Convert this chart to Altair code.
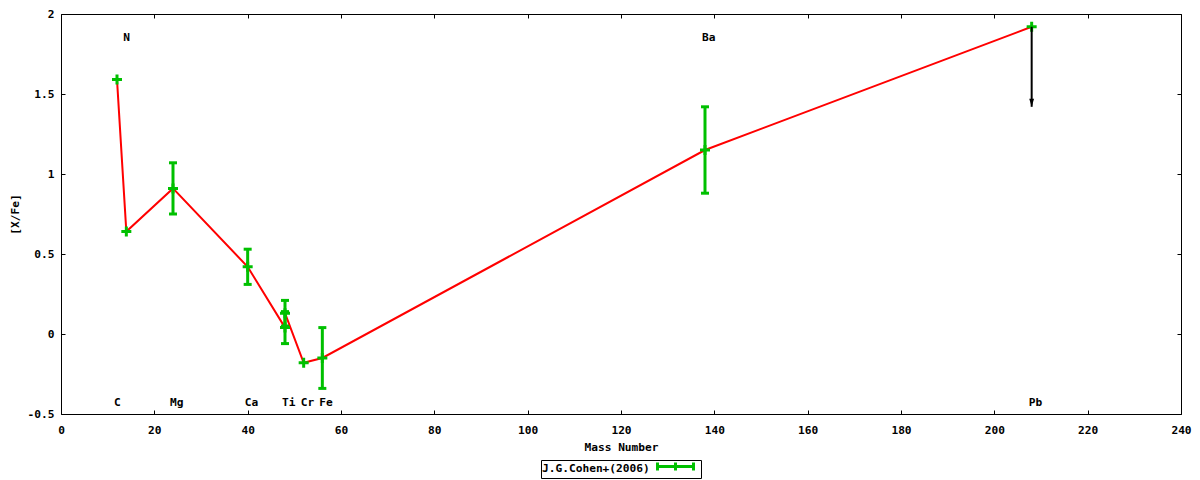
import pandas as pd
import altair as alt

FONT = "DejaVu Sans Mono"
FS = 11.2
GREEN = "#00c000"
SERIES = "J.G.Cohen+(2006)"

# measured abundances (J.G.Cohen+ 2006), in plotting order
elements = ["C", "N", "Mg", "Ca", "Ti", "Ti", "Cr", "Fe", "Ba", "Pb"]
mass = [12, 14, 24, 40, 48, 48, 52, 56, 138, 208]
xfe = [1.59, 0.64, 0.91, 0.42, 0.04, 0.13, -0.18, -0.15, 1.15, 1.92]
xfe_err = [0, 0, 0.16, 0.11, 0.10, 0.08, 0, 0.19, 0.27, 0]

# upper limits (drawn as downward arrows)
limit_mass = [208]
limit_xfe = [1.92]
limit_len = [0.5]

# element name labels
label_text = ["C", "N", "Mg", "Ca", "Ti", "Cr", "Fe", "Ba", "Pb"]
label_mass = [12, 14, 24, 40, 48, 52, 56, 138, 208]
label_y = [-0.43, 1.85, -0.43, -0.43, -0.43, -0.43, -0.43, 1.85, -0.43]

x_ticks = list(range(0, 241, 20))
y_ticks = [-0.5, 0, 0.5, 1, 1.5, 2]

df = pd.DataFrame({
    "element": elements, "mass": mass, "xfe": xfe, "err": xfe_err,
    "idx": list(range(len(mass))), "series": SERIES,
})
df_lim = pd.DataFrame({"mass": limit_mass, "xfe": limit_xfe, "len": limit_len})
df_lab = pd.DataFrame({"text": label_text, "mass": label_mass, "y": label_y})

x_scale = alt.Scale(domain=[0, 240], nice=False, zero=False)
y_scale = alt.Scale(domain=[-0.5, 2], nice=False, zero=False)

tick_style = dict(domain=False, grid=False, tickSize=4, offset=-4, tickColor="black",
                  tickWidth=1, labelFont=FONT, labelFontSize=FS, labelFontWeight="bold",
                  labelColor="black", titleFont=FONT, titleFontSize=FS,
                  titleFontWeight="bold", titleColor="black", labelFlush=False,
                  labelOverlap=False)

x_bottom = alt.Axis(orient="bottom", values=x_ticks, labelPadding=10,
                    title="Mass Number", titlePadding=6, **tick_style)
y_left = alt.Axis(orient="left", values=y_ticks, labelPadding=7,
                  labelExpr="toString(datum.value)", title="[X/Fe]", titlePadding=7,
                  **tick_style)
x_top = alt.Axis(orient="top", values=x_ticks, labels=False, title=None, **tick_style)
y_right = alt.Axis(orient="right", values=y_ticks, labels=False, title=None, **tick_style)

line = alt.Chart(df).mark_line(color="red", strokeWidth=2).encode(
    x=alt.X("mass:Q", scale=x_scale, axis=x_bottom),
    y=alt.Y("xfe:Q", scale=y_scale, axis=y_left),
    order=alt.Order("idx:Q"),
)

err_base = alt.Chart(df).transform_filter("datum.err > 0").transform_calculate(
    lo="datum.xfe - datum.err", hi="datum.xfe + datum.err"
)
err_rule = err_base.mark_rule(color=GREEN, strokeWidth=3).encode(
    x=alt.X("mass:Q", scale=x_scale, axis=None),
    y=alt.Y("lo:Q", scale=y_scale, axis=None),
    y2="hi:Q",
)
cap_lo = err_base.mark_tick(color=GREEN, orient="horizontal", size=8, thickness=3,
                            opacity=1).encode(
    x=alt.X("mass:Q", scale=x_scale, axis=None),
    y=alt.Y("lo:Q", scale=y_scale, axis=None),
)
cap_hi = err_base.mark_tick(color=GREEN, orient="horizontal", size=8, thickness=3,
                            opacity=1).encode(
    x=alt.X("mass:Q", scale=x_scale, axis=None),
    y=alt.Y("hi:Q", scale=y_scale, axis=None),
)

points = alt.Chart(df).mark_point(shape="M-1,0L1,0M0,-1L0,1", size=100, strokeWidth=3,
                                  filled=False, opacity=1).encode(
    x=alt.X("mass:Q", scale=x_scale, axis=x_top),
    y=alt.Y("xfe:Q", scale=y_scale, axis=y_right),
    color=alt.Color("series:N", scale=alt.Scale(range=[GREEN]), legend=alt.Legend(
        orient="none", legendX=480, legendY=446, title=SERIES, titleOrient="left",
        titleFont=FONT, titleFontSize=FS, titleFontWeight="bold", titleColor="black",
        titlePadding=6, labelExpr="''", labelOffset=0, labelFontSize=8,
        symbolType="M-1,-1L-1,1M-1,0L8,0M8,-1L8,1M3.5,-1L3.5,1",
        symbolSize=64, symbolStrokeWidth=3, strokeColor="black", padding=1,
        cornerRadius=0, fillColor="white",
    )),
)

arrow_base = alt.Chart(df_lim).transform_calculate(end="datum.xfe - datum.len")
arrow_shaft = arrow_base.mark_rule(color="black", strokeWidth=2).encode(
    x=alt.X("mass:Q", scale=x_scale, axis=None),
    y=alt.Y("xfe:Q", scale=y_scale, axis=None),
    y2="end:Q",
)
arrow_head = arrow_base.mark_point(shape="M-0.6,-1L0.6,-1L0,1Z", size=64, filled=True,
                                   color="black", opacity=1, yOffset=-4).encode(
    x=alt.X("mass:Q", scale=x_scale, axis=None),
    y=alt.Y("end:Q", scale=y_scale, axis=None),
)

labels = alt.Chart(df_lab).mark_text(align="left", baseline="middle", dx=-3, font=FONT,
                                     fontSize=FS, fontWeight="bold", color="black").encode(
    x=alt.X("mass:Q", scale=x_scale, axis=None),
    y=alt.Y("y:Q", scale=y_scale, axis=None),
    text="text:N",
)

chart = alt.layer(
    line, err_rule, cap_lo, cap_hi, points, arrow_shaft, arrow_head, labels
).resolve_axis(x="independent", y="independent").properties(
    width=1120, height=400,
    autosize=alt.AutoSizeParams(type="none"),
    padding={"left": 53, "top": 6, "right": 11, "bottom": 66},
    background="white",
).configure_view(stroke="black", strokeWidth=1)

chart.save("out.html", embed_options={"renderer": "svg", "actions": False})
